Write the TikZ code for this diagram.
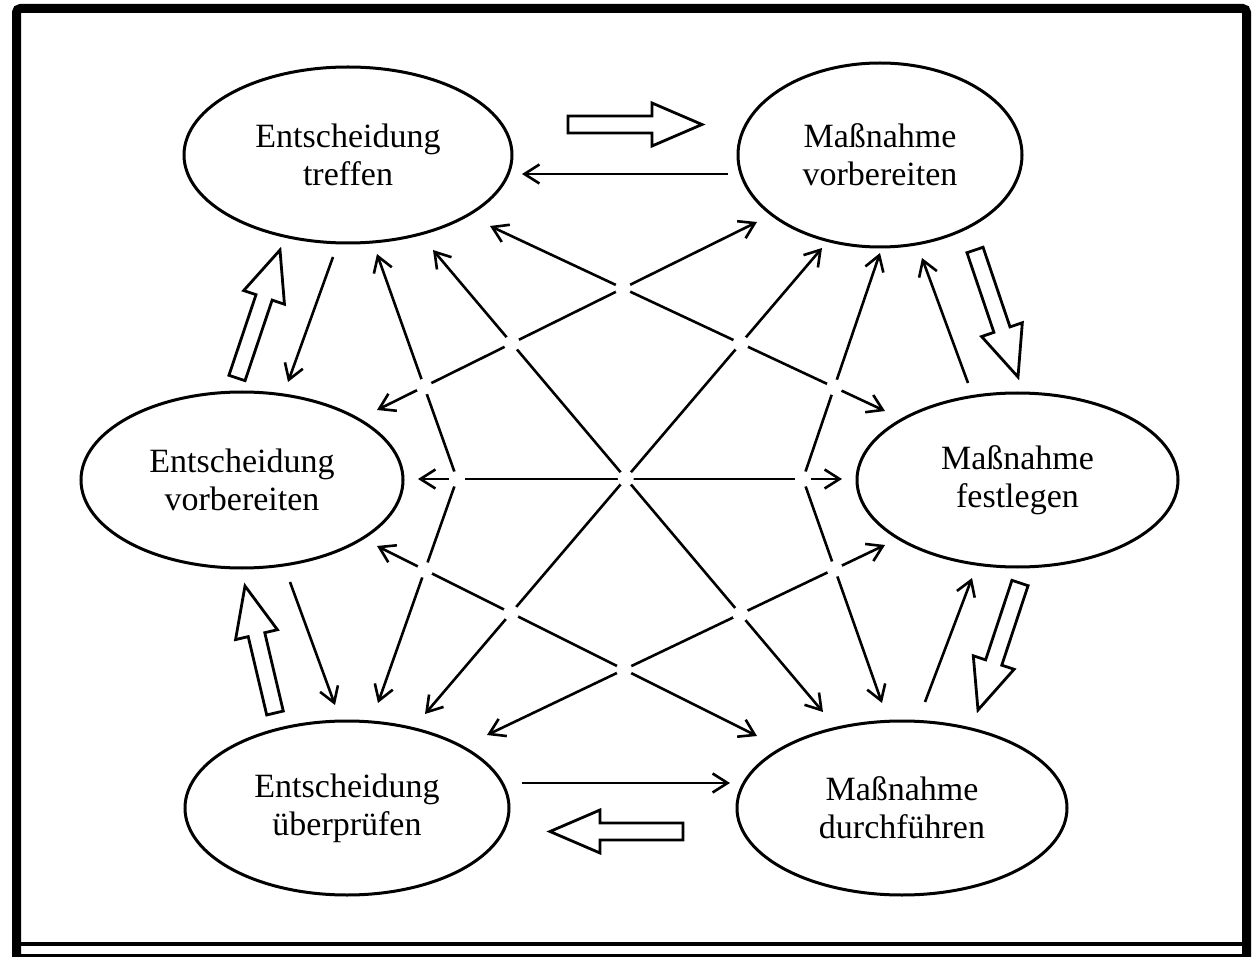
\documentclass[tikz,border=0pt]{standalone}
\usepackage{fontspec}
\setmainfont{Liberation Serif}
\usetikzlibrary{shapes.geometric,arrows.meta,calc,intersections}

% hollow block arrow from tail centre #1 to tip #2
\newcommand\blockarr[2]{%
  \coordinate (ba-c) at ($(#2)!25pt!(#1)$);
  \draw[blockarrow] ($(#1)!4.25pt!90:(#2)$) -- ($(ba-c)!4.25pt!-90:(#1)$)
    -- ($(ba-c)!10.75pt!-90:(#1)$) -- (#2) -- ($(ba-c)!10.75pt!90:(#1)$)
    -- ($(ba-c)!4.25pt!90:(#1)$) -- ($(#1)!4.25pt!-90:(#2)$) -- cycle;
}
% white break where two named links cross
\newcommand\linkgap[2]{%
  \fill[gap,name intersections={of=#1 and #2}] (intersection-1) circle[radius=4pt];
}

\begin{document}
\begin{tikzpicture}[x=0.5pt,y=-0.5pt,
  phase/.style={ellipse,draw,line width=1.5pt,inner sep=0pt,align=center,
    font=\fontsize{17pt}{19pt}\selectfont},
  barb/.tip={Straight Barb[length=7.5pt,width=9.5pt]},
  link/.style={line width=1.3pt,-barb},
  dlink/.style={line width=1.3pt,barb-barb},
  blockarrow/.style={draw,fill=white,line width=1.4pt,line join=miter},
  gap/.style={fill=white}]

\fill[white] (0,0) rectangle (1254,957);
\useasboundingbox (0,0) rectangle (1254,957);

% outer frame
\draw[line width=4.5pt,rounded corners=2pt] (16.5,970) -- (16.5,8.5) -- (1246.5,8.5) -- (1246.5,970);
\draw[line width=2pt] (21,944) -- (1242,944);
\draw[line width=1.5pt] (18,955.5) -- (1244,955.5);

% the six phases
\node[phase,minimum width=164pt,minimum height=88pt] (tl) at (348,155) {Entscheidung\\treffen};
\node[phase,minimum width=142pt,minimum height=92pt] (tr) at (880,155) {Maßnahme\\vorbereiten};
\node[phase,minimum width=161pt,minimum height=88pt] (ml) at (242,480) {Entscheidung\\vorbereiten};
\node[phase,minimum width=160.5pt,minimum height=87pt] (mr) at (1017.5,480) {Maßnahme\\festlegen};
\node[phase,minimum width=162pt,minimum height=87pt] (bl) at (347,808) {Entscheidung\\überprüfen};
\node[phase,minimum width=165pt,minimum height=87pt] (br) at (902,808) {Maßnahme\\durchführen};

% cycle: block arrows
\coordinate (b1s) at (568,124.5); \coordinate (b1e) at (702,124.5);
\coordinate (b2s) at (975,250);   \coordinate (b2e) at (1018,377);
\coordinate (b3s) at (1020,583);  \coordinate (b3e) at (978,710);
\coordinate (b4s) at (683,831.5); \coordinate (b4e) at (550,831.5);
\coordinate (b5s) at (275,713);   \coordinate (b5e) at (245,586);
\coordinate (b6s) at (237,378);   \coordinate (b6e) at (280,250);
\blockarr{b1s}{b1e}
\blockarr{b2s}{b2e}
\blockarr{b3s}{b3e}
\blockarr{b4s}{b4e}
\blockarr{b5s}{b5e}
\blockarr{b6s}{b6e}

% cycle: thin return arrows
\coordinate (r1s) at (728,174);  \coordinate (r1e) at (522,174);
\coordinate (r2s) at (333,257);  \coordinate (r2e) at (288,382);
\coordinate (r3s) at (290,582);  \coordinate (r3e) at (335,705);
\coordinate (r4s) at (522,783);  \coordinate (r4e) at (730,783);
\coordinate (r5s) at (925,702);  \coordinate (r5e) at (972,578);
\coordinate (r6s) at (968,383);  \coordinate (r6e) at (922,258);
\foreach \i in {1,...,6} \draw[link] (r\i s) -- (r\i e);

% cross links
\coordinate (a1) at (418,479); \coordinate (a2) at (842,479);
\coordinate (c-b1) at (433,250); \coordinate (c-b2) at (823,712);
\coordinate (c-c1) at (822,248); \coordinate (c-c2) at (425,714);
\coordinate (d1) at (490,226); \coordinate (d2) at (885,411);
\coordinate (e1) at (757,222); \coordinate (e2) at (377,410);
\coordinate (f1) at (377,546); \coordinate (f2) at (757,736);
\coordinate (g1) at (885,545); \coordinate (g2) at (487,735);
\coordinate (l1) at (377,254); \coordinate (lv) at (457,479); \coordinate (l2) at (378,703);
\coordinate (q1) at (880,253); \coordinate (qv) at (803,479); \coordinate (q2) at (882,703);

\draw[dlink,name path=pA] (a1) -- (a2);
\draw[dlink,name path=pB] (c-b1) -- (c-b2);
\draw[dlink,name path=pC] (c-c1) -- (c-c2);
\draw[dlink,name path=pD] (d1) -- (d2);
\draw[dlink,name path=pE] (e1) -- (e2);
\draw[dlink,name path=pF] (f1) -- (f2);
\draw[dlink,name path=pG] (g1) -- (g2);
\draw[dlink,name path=pL] (l1) -- (lv) -- (l2);
\draw[dlink,name path=pR] (q1) -- (qv) -- (q2);

% breaks where links cross
\linkgap{pD}{pE}
\linkgap{pE}{pB}
\linkgap{pD}{pC}
\linkgap{pE}{pL}
\linkgap{pD}{pR}
\linkgap{pB}{pC}
\linkgap{pF}{pL}
\linkgap{pG}{pR}
\linkgap{pF}{pC}
\linkgap{pG}{pB}
\linkgap{pF}{pG}
\fill[gap] (lv) circle[radius=4pt];
\fill[gap] (qv) circle[radius=4pt];
\end{tikzpicture}
\end{document}
